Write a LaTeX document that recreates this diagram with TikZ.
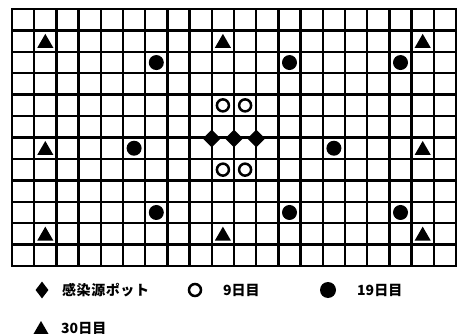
\documentclass[tikz,border=0pt]{standalone}
\usepackage{fontspec}
\newfontfamily\cjk{Noto Sans CJK JP}
\usetikzlibrary{shapes.geometric}
\tikzset{
  gridline/.style={line width=2.4pt, line cap=rect},
  tri/.style={regular polygon, regular polygon sides=3, fill=black, draw=none, minimum size=18.5pt, inner sep=0pt},
  fdot/.style={circle, fill=black, draw=none, minimum size=15pt, inner sep=0pt},
  odot/.style={circle, draw=black, line width=2.5pt, fill=white, minimum size=12pt, inner sep=0pt},
  dia/.style={diamond, fill=black, draw=none, minimum width=18pt, minimum height=18pt, inner sep=0pt},
  legdia/.style={diamond, fill=black, draw=none, minimum width=13pt, minimum height=17pt, inner sep=0pt},
  legtxt/.style={anchor=west, inner sep=0pt, font=\cjk\bfseries\fontsize{14}{14}\selectfont},
}
\begin{document}
\begin{tikzpicture}[x=1pt, y=-1pt]
\useasboundingbox (0,0) rectangle (458,334);
\def\gx{12}\def\gy{9}\def\cw{22.2}\def\ch{21.42}
% grid
\foreach \i in {0,...,20} \draw[gridline] ({\gx+\i*\cw},\gy) -- ({\gx+\i*\cw},{\gy+12*\ch});
\foreach \j in {0,...,12} \draw[gridline] (\gx,{\gy+\j*\ch}) -- ({\gx+20*\cw},{\gy+\j*\ch});
% triangles (30th day)
\foreach \c/\r [count=\k] in {1/1, 9/1, 18/1, 1/6, 18/6, 1/10, 9/10, 18/10}
  \node[tri] (t\k) at ({\gx+(\c+0.5)*\cw},{\gy+(\r+0.5)*\ch+2}) {};
% filled circles (19th day)
\foreach \c/\r [count=\k] in {6/2, 12/2, 17/2, 5/6, 14/6, 6/9, 12/9, 17/9}
  \node[fdot] (f\k) at ({\gx+(\c+0.5)*\cw},{\gy+(\r+0.5)*\ch}) {};
% open circles (9th day)
\foreach \c/\r [count=\k] in {9/4, 10/4, 9/7, 10/7}
  \node[odot] (o\k) at ({\gx+(\c+0.5)*\cw},{\gy+(\r+0.5)*\ch}) {};
% infection source pots
\foreach \c [count=\k] in {9,10,11}
  \node[dia] (d\k) at ({\gx+\c*\cw},{\gy+6*\ch+1}) {};
% legend
\node[legdia] (ld) at (42,290) {};
\node[legtxt] (lt1) at (62,290) {\addfontfeature{LetterSpace=4}感染源ポット};
\node[odot] (lo) at (195,290) {};
\node[legtxt] (lt2) at (223,290) {9日目};
\node[fdot, minimum size=16pt] (lf) at (328,290) {};
\node[legtxt] (lt3) at (357,290) {19日目};
\node[tri, minimum size=18pt] (lt) at (41,330) {};
\node[legtxt] (lt4) at (61,328) {30日目};
\end{tikzpicture}
\end{document}
